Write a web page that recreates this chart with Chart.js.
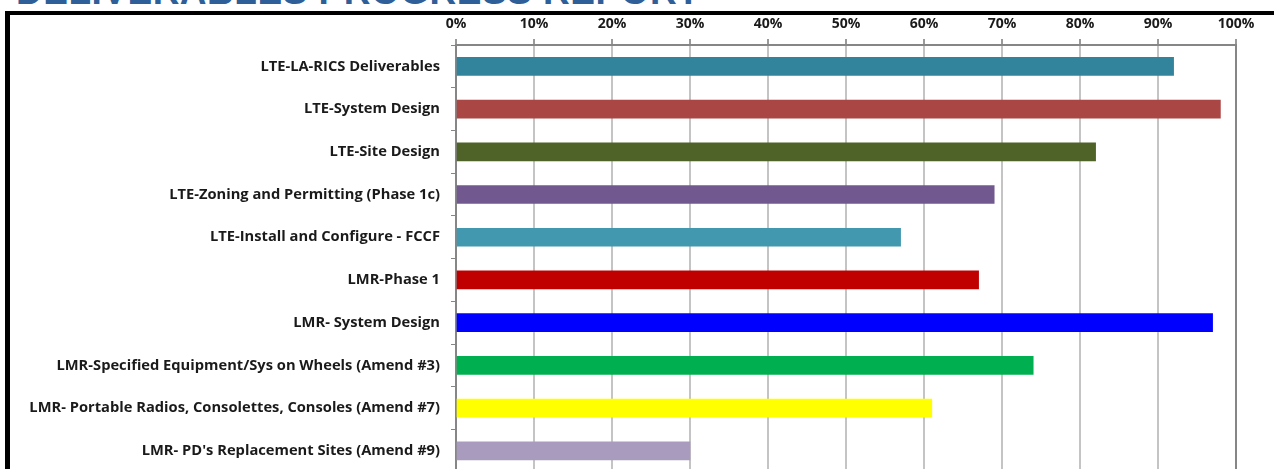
<!DOCTYPE html>
<html>
<head>
<meta charset="utf-8">
<script src="https://cdn.jsdelivr.net/npm/chart.js@4"></script>
<style>
  html, body { margin: 0; padding: 0; background: #fff; overflow: hidden; width: 1274px; height: 469px; }
  #title { position: absolute; left: 16px; top: -29px; font: bold 37px "Liberation Sans", Arial, sans-serif; color: #2F5F98; white-space: nowrap; letter-spacing: 0.5px; }
  #frame { position: absolute; left: 5px; top: 11px; width: 1300px; height: 480px; border-left: 5px solid #000; border-top: 4px solid #000; }
  #wrap { position: absolute; left: 0; top: 0; width: 1274px; height: 492px; }
</style>
</head>
<body>
<div id="title">DELIVERABLES PROGRESS REPORT</div>
<div id="frame"></div>
<div id="wrap"><canvas id="progressChart"></canvas></div>
<script>
const categories = [
  'LTE-LA-RICS Deliverables',
  'LTE-System Design',
  'LTE-Site Design',
  'LTE-Zoning and Permitting (Phase 1c)',
  'LTE-Install and Configure - FCCF',
  'LMR-Phase 1',
  'LMR- System Design',
  'LMR-Specified Equipment/Sys on Wheels (Amend #3)',
  'LMR- Portable Radios, Consolettes, Consoles (Amend #7)',
  "LMR- PD's Replacement Sites (Amend #9)"
];
const progress = [92, 98, 82, 69, 57, 67, 97, 74, 61, 30];
const tickLabels = ['0%', '10%', '20%', '30%', '40%', '50%', '60%', '70%', '80%', '90%', '100%'];
const barColors = ['#31849B', '#AA4643', '#4F6228', '#71588F', '#4198AF', '#C00000', '#0000FF', '#00B050', '#FFFF00', '#A99BBD'];

const labelFont = { family: '"Open Sans", Lato, sans-serif', size: 14.7, weight: 'bold' };

window.onload = function () {
  const ctx = document.getElementById('progressChart').getContext('2d');

  new Chart(ctx, {
    type: 'bar',
    data: {
      labels: categories,
      datasets: [{
        data: progress,
        backgroundColor: barColors,
        barThickness: 18
      }]
    },
    options: {
      indexAxis: 'y',
      responsive: true,
      maintainAspectRatio: false,
      animation: false,
      layout: { padding: { top: 13, right: 38, bottom: 0, left: 0 } },
      plugins: {
        legend: { display: false },
        tooltip: { enabled: false }
      },
      scales: {
        x: {
          position: 'top',
          min: 0,
          max: 100,
          afterFit: s => { s.height = 32; },
          ticks: {
            stepSize: 10,
            padding: 7,
            color: '#1a1a1a',
            font: { family: '"Open Sans", Lato, sans-serif', size: 14, weight: 'bold' },
            callback: v => tickLabels[v / 10]
          },
          grid: {
            color: ctx => ctx.tick && ctx.tick.value === 100 ? '#868686' : '#C4C4C4',
            lineWidth: 2,
            tickLength: 6,
            tickColor: '#9a9a9a'
          },
          border: { color: '#868686', width: 2 }
        },
        y: {
          afterFit: s => { s.width = 456; },
          ticks: {
            padding: 11,
            color: '#1a1a1a',
            font: labelFont
          },
          grid: {
            offset: true,
            drawOnChartArea: false,
            tickLength: 5,
            color: '#868686',
            lineWidth: 1
          },
          border: { color: '#868686', width: 2 }
        }
      }
    }
  });
};
</script>
</body>
</html>
